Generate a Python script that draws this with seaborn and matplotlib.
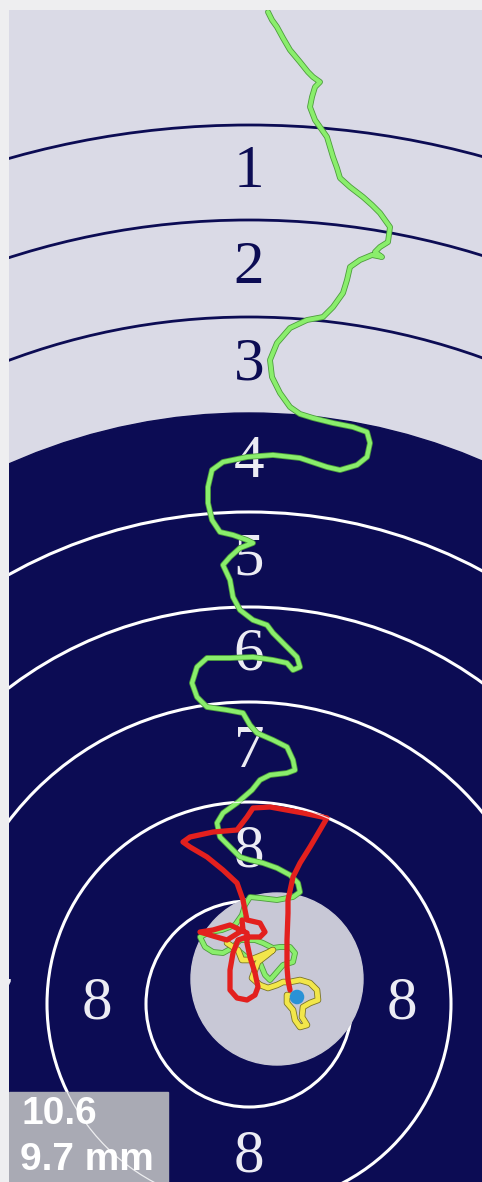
import matplotlib
matplotlib.use("Agg")
import matplotlib.pyplot as plt
import matplotlib.patheffects as pe
from matplotlib.patches import Circle, Rectangle
import pandas as pd
import seaborn as sns

sns.set_style("white")

# target geometry, read in image pixels (y grows downwards)
centre_x, centre_y = 249, 1004
ring_scores = [1, 2, 3, 4, 5, 6, 7, 8, 9]
ring_radius = [879, 784, 687, 591, 492, 397, 302, 202, 103]
black_score = 4
highlight_x, highlight_y, highlight_r = 277, 979, 86

# aiming trace (green)
green_x = [268, 272, 277, 283, 290, 300, 308, 313, 320, 315, 312, 310, 315, 327, 333, 337, 340, 350, 363, 372,
           380, 390, 388, 380, 375, 382, 372, 360, 350, 347, 343, 333, 323, 307, 290, 277, 270, 272, 280, 290,
           300, 313, 333, 353, 367, 370, 367, 357, 340, 327, 300, 273, 247, 223, 212, 208, 208, 212, 220, 233,
           247, 253, 240, 230, 223, 230, 233, 240, 253, 267, 273, 283, 297, 300, 293, 287, 273, 253, 230, 207,
           197, 192, 197, 207, 227, 243, 250, 257, 273, 287, 293, 295, 287, 270, 260, 252, 237, 223, 217, 220,
           230, 240, 250, 263, 277, 290, 298, 300, 293, 277, 260, 250, 245, 242, 235, 222, 210, 200, 205, 213,
           223, 232, 240, 255, 263, 273, 280, 290, 295, 293, 283, 277, 270, 265, 260, 250, 240, 233, 227]
green_y = [12, 20, 27, 38, 50, 62, 72, 77, 82, 87, 97, 107, 120, 137, 157, 168, 178, 187, 197, 205,
           213, 227, 242, 247, 252, 257, 255, 260, 267, 280, 293, 307, 317, 320, 328, 343, 360, 377, 393, 407,
           414, 418, 423, 427, 432, 443, 457, 465, 470, 467, 458, 455, 457, 462, 470, 487, 503, 520, 532, 535,
           540, 543, 548, 557, 565, 580, 597, 610, 620, 625, 633, 643, 657, 667, 670, 663, 660, 657, 658, 658,
           667, 683, 697, 707, 710, 713, 725, 733, 740, 747, 760, 770, 773, 775, 780, 790, 803, 813, 823, 837,
           847, 857, 860, 863, 868, 875, 883, 892, 897, 900, 898, 897, 905, 915, 925, 930, 932, 937, 947, 952,
           953, 948, 940, 940, 943, 948, 947, 947, 953, 962, 965, 972, 980, 975, 963, 960, 952, 947, 943]

# last second before the shot (yellow)
yellow_x = [227, 233, 238, 242, 250, 260, 267, 273, 267, 258, 252, 260, 268, 277, 283, 290, 300, 310, 317, 318,
            310, 303, 302, 307, 300, 295, 293, 287, 287, 295, 297]
yellow_y = [943, 947, 950, 960, 960, 956, 953, 950, 955, 962, 978, 985, 988, 985, 982, 982, 980, 983, 990, 1000,
            1003, 1007, 1017, 1025, 1027, 1020, 1010, 1003, 995, 997, 997]

# follow-through after the shot (red)
red_x = [290, 288, 287, 287, 288, 288, 293, 300, 310, 320, 327, 303, 270, 253, 247, 237, 213, 190, 183, 190,
         207, 223, 237, 243, 247, 260, 265, 260, 247, 238, 233, 230, 230, 237, 247, 255, 258, 255, 250, 247,
         247, 230, 213, 200, 213, 227, 243, 242]
red_y = [990, 980, 967, 940, 913, 900, 877, 863, 847, 830, 818, 813, 807, 808, 817, 830, 832, 837, 842, 847,
         857, 870, 883, 900, 920, 923, 932, 937, 937, 940, 953, 970, 990, 998, 1000, 995, 987, 973, 957, 943,
         933, 925, 930, 932, 936, 940, 930, 920]

shot_x, shot_y = [297], [997]
shot_score = "10.6"
shot_offset = "9.7 mm"

navy = "#0c0c54"
paper = "#dadae6"

fig = plt.figure(figsize=(4.82, 11.82), dpi=100, facecolor="#eeeef0")
ax = fig.add_axes([9 / 482, 0, 473 / 482, 1172 / 1182])
ax.set_facecolor(paper)

black_r = ring_radius[ring_scores.index(black_score)]
ax.add_patch(Circle((centre_x, centre_y), black_r, color=navy, zorder=1))
for s, r in zip(ring_scores, ring_radius):
    if s < black_score:
        ax.add_patch(Circle((centre_x, centre_y), r, fill=False, ec=navy, lw=2, zorder=2))
    elif s > black_score:
        ax.add_patch(Circle((centre_x, centre_y), r, fill=False, ec="white", lw=2.2, zorder=2))

ax.add_patch(Circle((highlight_x, highlight_y), highlight_r, color="#c8c8d6", zorder=3))

# ring numbers sit halfway between two rings, only where they land on the visible part
for i, s in enumerate(ring_scores[:-1]):
    mid = (ring_radius[i] + ring_radius[i + 1]) / 2
    col = navy if s < black_score else "#ececf4"
    for dx, dy in [(0, -1), (-1, 0), (1, 0), (0, 1)]:
        lx, ly = centre_x + dx * mid, centre_y + dy * mid
        if -10 < lx < 490 and 0 < ly < 1190:
            ax.text(lx, ly, str(s), ha="center", va="center",
                    fontsize=44, family="Liberation Serif", color=col, zorder=4, clip_on=True)

outline = lambda c, w: [pe.Stroke(linewidth=w, foreground=c), pe.Normal()]
traces = [(green_x, green_y, "#8aee6c", 3, "#4c9c3c"),
          (yellow_x, yellow_y, "#f2e64a", 3.5, "#7a7428"),
          (red_x, red_y, "#e3201e", 3.8, None)]
for tx, ty, col, w, edge in traces:
    df = pd.DataFrame({"x": tx, "y": ty})
    sns.lineplot(data=df, x="x", y="y", sort=False, estimator=None, color=col, lw=w, ax=ax, zorder=6,
                 path_effects=outline(edge, w + 1.2) if edge else None)
sns.scatterplot(x=shot_x, y=shot_y, s=110, color="#2a92d6", edgecolor="none", ax=ax, zorder=8)

# result box in the corner, ring line faintly visible through it
ax.add_patch(Rectangle((9, 1092), 159, 95, color="#a9aab4", zorder=9))
ax.add_patch(Circle((centre_x, centre_y), ring_radius[-2], fill=False, ec="white", lw=0.9, alpha=0.8, zorder=10))
ax.text(22, 1114, shot_score, fontsize=28, fontweight="bold", family="Liberation Sans", color="white",
        va="center", ha="left", zorder=11)
ax.text(20, 1160, shot_offset, fontsize=28, fontweight="bold", family="Liberation Sans", color="white",
        va="center", ha="left", zorder=11)

ax.set_xlim(9, 482)
ax.set_ylim(1182, 10)
ax.set_xticks([])
ax.set_yticks([])
ax.set_xlabel("")
ax.set_ylabel("")
sns.despine(ax=ax, left=True, bottom=True)

fig.savefig("out.png", dpi=100)
